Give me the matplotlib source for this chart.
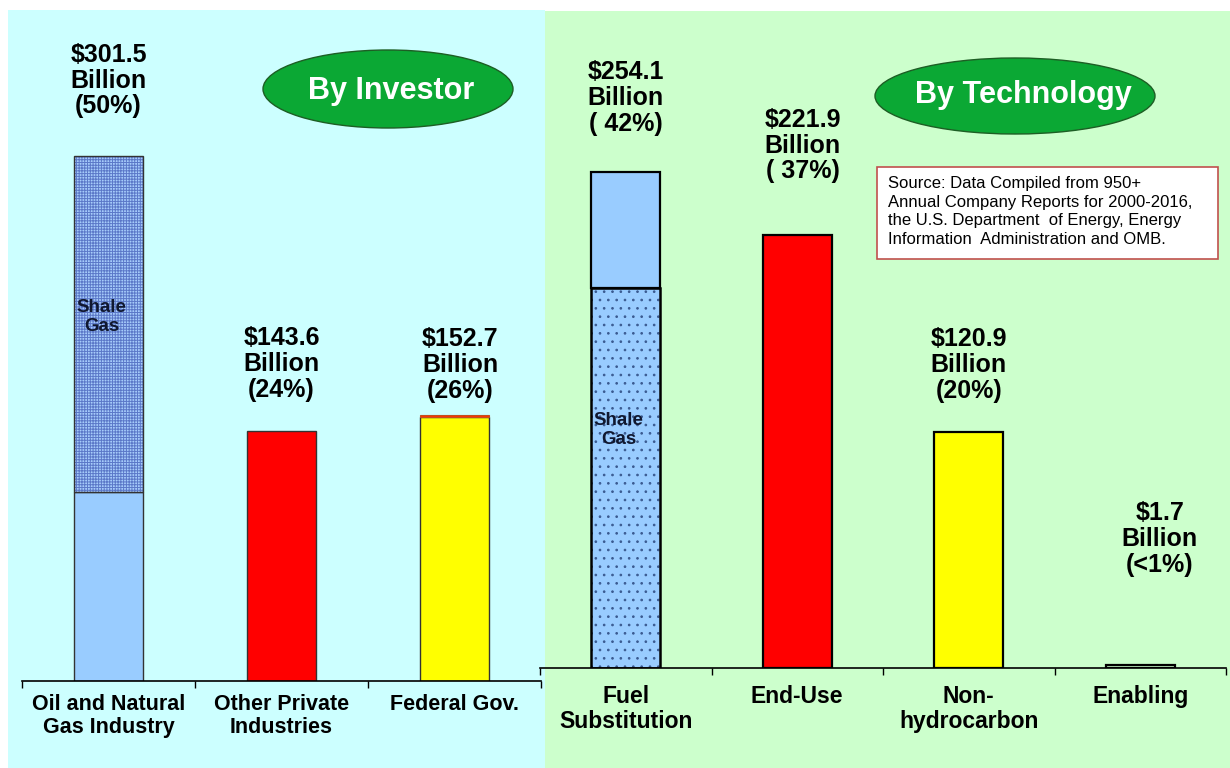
import matplotlib
matplotlib.use('Agg')
import matplotlib.pyplot as plt
from matplotlib.patches import Rectangle, Ellipse

plt.rcParams['font.family'] = ['Liberation Sans', 'DejaVu Sans']
plt.rcParams['hatch.linewidth'] = 0.7

# --- data ---
investor_cats = ['Oil and Natural\nGas Industry', 'Other Private\nIndustries', 'Federal Gov.']
investor_base = [108.5, 143.6, 151.5]      # conventional / main part
investor_shale = [193.0, 0.0, 0.0]         # shale gas part on top
investor_cap = [0.0, 0.0, 1.2]             # thin red strip on federal bar
investor_labels = ['$301.5\nBillion\n(50%)', '$143.6\nBillion\n(24%)', '$152.7\nBillion\n(26%)']
investor_colors = ['#99CCFF', '#FF0000', '#FFFF00']

tech_cats = ['Fuel\nSubstitution', 'End-Use', 'Non-\nhydrocarbon', 'Enabling']
tech_shale = [194.7, 0.0, 0.0, 0.0]        # shale gas part at bottom
tech_rest = [59.4, 221.9, 120.9, 1.7]
tech_labels = ['$254.1\nBillion\n( 42%)', '$221.9\nBillion\n( 37%)', '$120.9\nBillion\n(20%)', '$1.7\nBillion\n(<1%)']
tech_colors = ['#99CCFF', '#FF0000', '#FFFF00', '#CCFFCC']

source_text = ('Source: Data Compiled from 950+\n'
               'Annual Company Reports for 2000-2016,\n'
               'the U.S. Department  of Energy, Energy\n'
               'Information  Administration and OMB.')

W, H = 1230, 768
fig = plt.figure(figsize=(W / 100, H / 100), dpi=100)

# background / decoration layer in pixel coords
bg = fig.add_axes([0, 0, 1, 1], zorder=0)
bg.set_xlim(0, W)
bg.set_ylim(H, 0)
bg.axis('off')
bg.add_patch(Rectangle((8, 10), 537, H - 10, facecolor='#CCFFFF', edgecolor='none'))
bg.add_patch(Rectangle((545, 11), W - 545, H - 11, facecolor='#CCFFCC', edgecolor='none'))

bg.add_patch(Ellipse((388, 89), 250, 78, facecolor='#0BA834', edgecolor='#1D5E24', lw=1, zorder=3))
bg.text(391, 91, 'By Investor', color='white', fontsize=22, fontweight='bold',
        ha='center', va='center', zorder=4)
bg.add_patch(Ellipse((1015, 96), 280, 76, facecolor='#0BA834', edgecolor='#1D5E24', lw=1, zorder=3))
bg.text(1023, 95, 'By Technology', color='white', fontsize=22, fontweight='bold',
        ha='center', va='center', zorder=4)

bg.add_patch(Rectangle((877, 167), 341, 92, facecolor='white', edgecolor='#C0504D', lw=1.2, zorder=3))
bg.text(888, 176, source_text, fontsize=12, ha='left', va='top', linespacing=1.3, zorder=4)


def style_axis(ax, n, cats, pad, size):
    ax.set_facecolor('none')
    for s in ['top', 'right', 'left']:
        ax.spines[s].set_visible(False)
    ax.spines['bottom'].set_linewidth(1.2)
    ax.set_yticks([])
    ax.set_xlim(-0.5, n - 0.5)
    ax.set_xticks([i - 0.5 for i in range(n + 1)])
    ax.set_xticklabels([])
    ax.tick_params(axis='x', which='major', direction='out', length=5, width=1)
    ax.set_xticks(range(n), cats, minor=True)
    ax.tick_params(axis='x', which='minor', length=0, pad=pad, labelsize=size)
    for t in ax.get_xticklabels(minor=True):
        t.set_fontweight('bold')
        t.set_linespacing(1.15)


# --- left panel: by investor ---
ax1 = fig.add_axes([22 / W, (H - 681) / H, (541 - 22) / W, (681 - 10) / H], zorder=1)
bw = 0.40
x1 = list(range(len(investor_cats)))
ax1.bar(x1, investor_base, bw, color=investor_colors, edgecolor='#333333', lw=1)
sh = [i for i in x1 if investor_shale[i] > 0]
ax1.bar(sh, [investor_shale[i] for i in sh], bw, bottom=[investor_base[i] for i in sh],
        color='#A6CBFA', edgecolor='#5B78C8', lw=0, hatch='++++++')
ax1.bar(sh, [investor_shale[i] for i in sh], bw, bottom=[investor_base[i] for i in sh],
        fill=False, edgecolor='#333333', lw=1)
cp = [i for i in x1 if investor_cap[i] > 0]
ax1.bar(cp, [investor_cap[i] for i in cp], bw, bottom=[investor_base[i] for i in cp],
        color='#FF3300', edgecolor='#C05020', lw=0.8)
ax1.set_ylim(0, (681 - 10) / (525 / 301.5))
style_axis(ax1, 3, investor_cats, 9, 15.5)

inv_totals = [b + s + c for b, s, c in zip(investor_base, investor_shale, investor_cap)]
inv_offsets = [(0, 27), (0, 21), (4, 9)]
for i, (lab, tot) in enumerate(zip(investor_labels, inv_totals)):
    ax1.annotate(lab, (i, tot), xytext=inv_offsets[i], textcoords='offset points',
                 ha='center', va='bottom', fontsize=18, fontweight='bold', linespacing=1.1)
ax1.text(-0.04, 209, 'Shale\nGas', ha='center', va='center', fontsize=13.5,
         fontweight='bold', color='#101830', linespacing=1.2)

# --- right panel: by technology ---
ax2 = fig.add_axes([540 / W, (H - 668) / H, (1226 - 540) / W, (668 - 11) / H], zorder=1)
x2 = list(range(len(tech_cats)))
ax2.bar(x2, tech_shale, bw, color='#99CCFF', edgecolor='#3A5A90', lw=0, hatch='..')
ax2.bar(x2, tech_shale, bw, fill=False, edgecolor='black', lw=1.8)
ax2.bar(x2, tech_rest, bw, bottom=tech_shale, color=tech_colors, edgecolor='black', lw=1.6)
ax2.set_ylim(0, (668 - 11) / (496 / 254.1))
style_axis(ax2, 4, tech_cats, 12, 16.5)

tech_totals = [a + b for a, b in zip(tech_shale, tech_rest)]
tech_offsets = [(0, 26), (4, 37), (0, 21), (14, 63)]
for i, (lab, tot) in enumerate(zip(tech_labels, tech_totals)):
    ax2.annotate(lab, (i, tot), xytext=tech_offsets[i], textcoords='offset points',
                 ha='center', va='bottom', fontsize=18, fontweight='bold', linespacing=1.1)
ax2.text(-0.04, 122, 'Shale\nGas', ha='center', va='center', fontsize=13.5,
         fontweight='bold', color='#101830', linespacing=1.2)

fig.savefig('out.png', dpi=100)
